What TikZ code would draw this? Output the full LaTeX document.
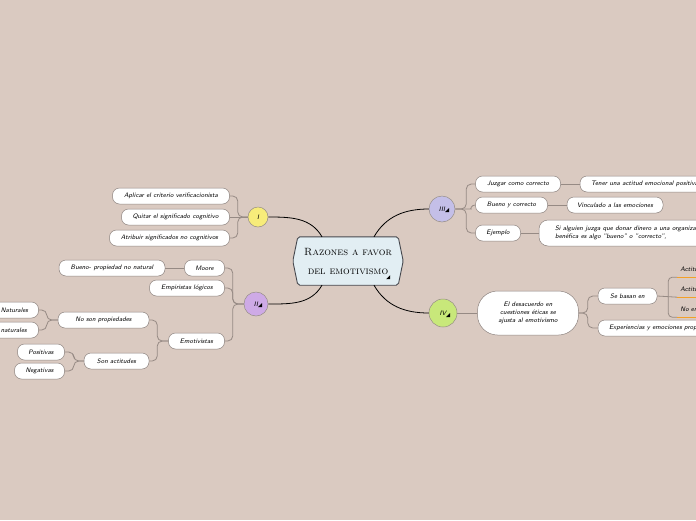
\documentclass[tikz,border=0pt]{standalone}
\usepackage{tikz}
\usetikzlibrary{positioning,calc,backgrounds}
\definecolor{paper}{RGB}{218,202,193}
\definecolor{hexfill}{RGB}{226,238,243}
\definecolor{hexline}{RGB}{70,72,78}
\definecolor{leafline}{RGB}{140,130,126}
\definecolor{subline}{RGB}{150,138,132}
\definecolor{numline}{RGB}{150,142,135}
\definecolor{numI}{RGB}{247,236,122}
\definecolor{numII}{RGB}{206,170,230}
\definecolor{numIII}{RGB}{196,191,232}
\definecolor{numIV}{RGB}{200,232,122}
\definecolor{ulorange}{RGB}{243,160,40}
\newcommand\leaffont{\fontsize{6.5}{7.8}\selectfont\sffamily\itshape}
\newcommand\titlefont{\fontsize{10.5}{19}\selectfont\scshape}
\tikzset{
	leaf/.style={
		rectangle,
		rounded corners=7pt,
		draw=leafline,
		fill=white,
		line width=0.5pt,
		minimum height=16pt,
		inner xsep=3pt,
		inner ysep=1pt
	},
	num/.style={
		circle,
		draw=numline,
		line width=0.5pt,
		inner sep=0pt
	},
	mainlink/.style={
		draw=black,
		line width=0.8pt
	},
	sub/.style={
		draw=subline,
		line width=0.8pt,
		rounded corners=5pt
	}
}
\begin{document}
\begin{tikzpicture}[
	x=1pt, y=1pt,
	node distance=18pt,
	every node/.style={font=\leaffont},
	uline/.style={text width=50pt, align=left, inner xsep=3pt,
		minimum height=16pt}
	]
	
	\useasboundingbox (0,0) rectangle (696,-520);
	\clip (0,0) rectangle (696,-520);
	\begin{scope}[on background layer]
		\fill[paper] (0,0) rectangle (696,-520);
	\end{scope}
	
	%--------------------
	% Central topic
	%--------------------
	\node[minimum width=100pt, minimum height=48pt, inner sep=0pt,
		align=center, font=\titlefont] (c) at (348,-261)
		{Razones a favor\\del emotivismo};
	\begin{scope}[on background layer]
		\draw[draw=hexline, fill=hexfill, line width=0.9pt, rounded corners=2pt]
			(c.north west) -- (c.north east) -- ($(c.east)+(5,0)$)
			-- (c.south east) -- (c.south west) -- ($(c.west)+(-5,0)$) -- cycle;
	\end{scope}
	\fill ($(c.south east)+(-12,6)$) -- ++(4,0) -- ++(0,4) -- cycle;
	
	%--------------------
	% Main branches
	%--------------------
	\node[num, fill=numI, minimum size=20pt]   (I)   at (258,-217) {I};
	\node[num, fill=numII, minimum size=24pt]  (II)  at (256,-304) {II\hspace{5pt}};
	\node[num, fill=numIII, minimum size=26pt] (III) at (442,-209) {III\hspace{5pt}};
	\node[num, fill=numIV, minimum size=28pt]  (IV)  at (443,-313) {IV\hspace{5pt}};
	
	\fill ($(II.center)+(2,-3)$) -- ++(4,0) -- ++(0,4) -- cycle;
	\fill ($(III.center)+(3,-3)$) -- ++(4,0) -- ++(0,4) -- cycle;
	\fill ($(IV.center)+(3,-4)$) -- ++(4,0) -- ++(0,4) -- cycle;
	
	\draw[mainlink] ($(c.north)+(-26,0)$) to[out=120, in=0] (I.east);
	\draw[mainlink] ($(c.south)+(-26,0)$) to[out=-120, in=0] (II.east);
	\draw[mainlink] ($(c.north)+(26,0)$) to[out=60, in=180] (III.west);
	\draw[mainlink] ($(c.south)+(26,0)$) to[out=-60, in=180] (IV.west);
	
	%--------------------
	% Branch I
	%--------------------
	\node[leaf, minimum width=117pt, left=18pt of I, yshift=21pt]  (apl) {Aplicar el criterio verificacionista};
	\node[leaf, minimum width=108pt, left=18pt of I]               (qui) {Quitar el significado cognitivo};
	\node[leaf, minimum width=120pt, left=18pt of I, yshift=-21pt] (atr) {Atribuir significados no cognitivos};
	
	\draw[sub] (I.west) -- ++(-10,0) |- (apl.east);
	\draw[sub] (I.west) -- (qui.east);
	\draw[sub] (I.west) -- ++(-10,0) |- (atr.east);
	
	%--------------------
	% Branch II
	%--------------------
	\node[leaf, minimum width=40pt, left=19pt of II, yshift=36pt]  (moore) {Moore};
	\node[leaf, minimum width=75pt, left=19pt of II, yshift=16pt]  (emp)   {Empiristas lógicos};
	\node[leaf, minimum width=56pt, left=19pt of II, yshift=-37pt] (emo)   {Emotivistas};
	
	\node[leaf, minimum width=106pt, left=19pt of moore] (bueno) {Bueno- propiedad no natural};
	
	\node[leaf, minimum width=91pt, left=19pt of emo, yshift=21pt]  (noson)  {No son propiedades};
	\node[leaf, minimum width=65pt, left=19pt of emo, yshift=-20pt] (sonact) {Son actitudes};
	
	\node[leaf, minimum width=48pt, left=19pt of noson, yshift=10pt]  (nat)   {Naturales};
	\node[leaf, minimum width=60pt, left=19pt of noson, yshift=-10pt] (nonat) {No naturales};
	
	\node[leaf, minimum width=47pt, left=19pt of sonact, yshift=9pt]   (pos) {Positivas};
	\node[leaf, minimum width=50pt, left=19pt of sonact, yshift=-10pt] (neg) {Negativas};
	
	\draw[sub] (II.west) -- ++(-11,0) |- (moore.east);
	\draw[sub] (II.west) -- ++(-11,0) |- (emp.east);
	\draw[sub] (II.west) -- ++(-11,0) |- (emo.east);
	\draw[sub] (moore.west) -- (bueno.east);
	\draw[sub] (emo.west) -- ++(-11,0) |- (noson.east);
	\draw[sub] (emo.west) -- ++(-11,0) |- (sonact.east);
	\draw[sub] (noson.west) -- ++(-11,0) |- (nat.east);
	\draw[sub] (noson.west) -- ++(-11,0) |- (nonat.east);
	\draw[sub] (sonact.west) -- ++(-10,0) |- (pos.east);
	\draw[sub] (sonact.west) -- ++(-10,0) |- (neg.east);
	
	%--------------------
	% Branch III
	%--------------------
	\node[leaf, minimum width=85pt, right=20pt of III, yshift=25pt]  (juz) {Juzgar como correcto};
	\node[leaf, minimum width=72pt, right=20pt of III, yshift=4pt]   (buc) {Bueno y correcto};
	\node[leaf, minimum width=45pt, right=20pt of III, yshift=-24pt] (ej)  {Ejemplo};
	
	\node[leaf, inner xsep=11pt, right=19pt of juz]                   (ten) {Tener una actitud emocional positiva};
	\node[leaf, minimum width=96pt, right=19pt of buc]                (vin) {Vinculado a las emociones};
	\node[leaf, inner xsep=16pt, minimum height=26pt, rounded corners=9pt,
		align=left, right=18pt of ej] (si)
		{Si alguien juzga que donar dinero a una organización\\benéfica es algo "bueno" o "correcto",};
	
	\draw[sub] (III.east) -- ++(11,0) |- (juz.west);
	\draw[sub] (III.east) -- ++(11,0) to[out=0, in=180] (buc.west);
	\draw[sub] (III.east) -- ++(11,0) |- (ej.west);
	\draw[sub] (juz.east) -- (ten.west);
	\draw[sub] (buc.east) -- (vin.west);
	\draw[sub] (ej.east) -- (si.west);
	
	%--------------------
	% Branch IV
	%--------------------
	\node[leaf, minimum width=101pt, minimum height=44pt, rounded corners=20pt,
		align=center, right=20pt of IV] (des)
		{El desacuerdo en\\cuestiones éticas se\\ajusta al emotivismo};
	
	\node[leaf, minimum width=59pt, right=19pt of des, yshift=17pt] (seb) {Se basan en};
	\node[leaf, inner xsep=11pt, right=19pt of des, yshift=-15pt]   (exp) {Experiencias y emociones propias};
	
	\node[uline, right=20pt of seb, yshift=27pt]  (act1) {Actitudes};
	\node[uline, right=20pt of seb, yshift=7pt]   (act2) {Actitudes};
	\node[uline, right=20pt of seb, yshift=-13pt] (noen) {No en};
	
	\draw[sub] (IV.east) -- (des.west);
	\draw[sub] (des.east) -- ++(9,0) |- (seb.west);
	\draw[sub] (des.east) -- ++(9,0) |- (exp.west);
	\draw[sub, rounded corners=4pt] (act1.south west) -| ($(seb.east)+(11,0)$) |- (noen.south west);
	\draw[sub] (seb.east) -- (act2.south west);
	
	\draw[ulorange, line width=1.2pt] (act1.south west) -- (act1.south east);
	\draw[ulorange, line width=1.2pt] (act2.south west) -- (act2.south east);
	\draw[ulorange, line width=1.2pt] (noen.south west) -- (noen.south east);
	
\end{tikzpicture}
\end{document}
